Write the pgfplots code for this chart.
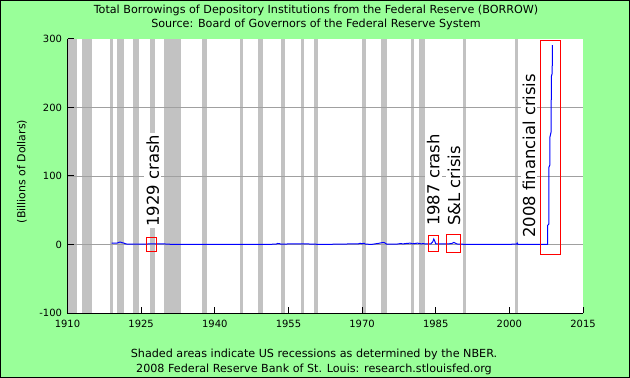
\documentclass[border=0pt]{standalone}
\usepackage{pgfplots}
\pgfplotsset{compat=1.18}
\usepackage{fontspec}
\setmainfont{DejaVu Sans}
\definecolor{bggreen}{RGB}{153,255,153}
\definecolor{recgray}{RGB}{194,194,194}
\definecolor{gridgray}{RGB}{160,160,160}
\newcommand\rec[2]{\addplot[fill=recgray, draw=none, forget plot] coordinates {(#1,-100) (#1,300) (#2,300) (#2,-100)} -- cycle;}
\begin{document}
\begin{tikzpicture}
\path[use as bounding box] (0,0) rectangle (630bp,378bp);
\fill[bggreen] (0,0) rectangle (630bp,378bp);
\draw[black, line width=1bp] (0.5bp,0.5bp) rectangle (629.5bp,377.5bp);
\node[font=\fontsize{11.2}{13}\selectfont] at (316bp,367.5bp) {Total Borrowings of Depository Institutions from the Federal Reserve (BORROW)};
\node[font=\fontsize{11.2}{13}\selectfont] at (316bp,353.5bp) {Source: Board of Governors of the Federal Reserve System};
\node[font=\fontsize{11.2}{13}\selectfont] at (314bp,24bp) {Shaded areas indicate US recessions as determined by the NBER.};
\node[font=\fontsize{11.2}{13}\selectfont] at (314bp,9bp) {2008 Federal Reserve Bank of St. Louis: research.stlouisfed.org};
\node[font=\fontsize{11}{13}\selectfont, rotate=90] at (22bp,206.5bp) {(Billions of Dollars)};
\begin{axis}[
  at={(67.5bp,65bp)}, anchor=south west,
  scale only axis, width=515.5bp, height=274bp,
  xmin=1910, xmax=2015, ymin=-100, ymax=300,
  axis line style={draw=none},
  axis background/.style={fill=white},
  axis on top,
  xtick={1910,1925,1940,1955,1970,1985,2000,2015},
  ytick={-100,0,100,200,300},
  xticklabel style={/pgf/number format/1000 sep={}, /pgf/number format/fixed, yshift=-3.5bp},
  yticklabel style={xshift=-2bp},
  tick pos=left,
  tick align=inside, major tick length=6bp,
  tick style={black, line width=1bp},
  ticklabel style={font=\fontsize{10}{11}\selectfont},
  /pgf/number format/assume math mode=true,
  clip=false,
]
\rec{1910.0}{1912.0}
\rec{1913.0}{1914.92}
\rec{1918.58}{1919.17}
\rec{1920.0}{1921.5}
\rec{1923.33}{1924.5}
\rec{1926.75}{1927.83}
\rec{1929.58}{1933.17}
\rec{1937.33}{1938.42}
\rec{1945.08}{1945.75}
\rec{1948.83}{1949.75}
\rec{1953.5}{1954.33}
\rec{1957.58}{1958.25}
\rec{1960.25}{1961.08}
\rec{1969.92}{1970.83}
\rec{1973.83}{1975.17}
\rec{1980.0}{1980.5}
\rec{1981.5}{1982.83}
\rec{1990.5}{1991.17}
\rec{2001.17}{2001.83}
\draw[gridgray, line width=0.8bp] (axis cs:1910,0) -- (axis cs:2015,0);
\draw[gridgray, line width=0.8bp] (axis cs:1910,100) -- (axis cs:2015,100);
\draw[gridgray, line width=0.8bp] (axis cs:1910,200) -- (axis cs:2015,200);
\draw[black, line width=1bp] (rel axis cs:0,1) -- (rel axis cs:0,0) -- (rel axis cs:1,0);
\addplot[blue, line width=1bp] coordinates {
(1919.0,1.9) (1919.5,2.0) (1920.2,2.2) (1920.5,3.2) (1920.8,3.6) (1921.0,2.8) (1921.5,2.0) (1921.9,0.8)
(1922.5,0.5) (1925,0.6) (1928,0.9) (1929.5,0.9) (1931,0.3) (1933,0.1) (1940,0.0) (1950,0.1)
(1952.5,0.5) (1952.8,1.5) (1953.2,1.2) (1953.5,0.4) (1955,0.8) (1957,0.8) (1959,0.8) (1960,0.5)
(1962,0.1) (1965,0.5) (1969.3,1.0) (1969.6,1.8) (1970.0,1.0) (1970.4,1.8) (1970.7,0.5) (1972,0.2)
(1973.2,1.5) (1973.6,2.0) (1974.3,3.0) (1974.6,2.5) (1975.0,0.5) (1977,0.5) (1977.7,1.2) (1978.5,1.0)
(1979.0,1.5) (1979.8,2.0) (1980.3,1.0) (1980.8,1.5) (1981.3,2.0) (1982.0,1.0) (1982.5,1.2) (1983,0.8)
(1984.0,0.8) (1984.4,4) (1984.6,8) (1984.8,5) (1985.0,1) (1986,0.8) (1987.5,0.8) (1988.3,1.5)
(1988.7,3.0) (1989.1,1.5) (1989.5,0.5) (1991,0.3) (1995,0.2) (2000,0.3) (2001.5,0.5) (2001.6,2.0)
(2001.75,0.2) (2007.6,0.3) (2007.78,0.3) (2007.81,28) (2008.05,30) (2008.07,113) (2008.25,116) (2008.27,157)
(2008.52,165) (2008.54,245) (2008.73,250) (2008.75,291)
};
\draw[red, line width=1bp] (axis cs:1926.1,-10) rectangle (axis cs:1928.2,10.5);
\draw[red, line width=1bp] (axis cs:1983.5,-10) rectangle (axis cs:1985.6,13.4);
\draw[red, line width=1bp] (axis cs:1987.15,-12) rectangle (axis cs:1990.1,15.3);
\draw[red, line width=1bp] (axis cs:2006.3,-14.3) rectangle (axis cs:2010.45,298);
\node[rotate=90, fill=white, inner sep=2bp, font=\fontsize{16.5}{18}\selectfont] at (axis cs:1927.35,93.4) {1929 crash};
\node[rotate=90, fill=white, inner sep=2bp, font=\fontsize{16.5}{18}\selectfont] at (axis cs:1984.5,94.2) {1987 crash};
\node[rotate=90, fill=white, inner sep=2bp, font=\fontsize{16.5}{18}\selectfont] at (axis cs:1988.7,85.6) {S\&L crisis};
\node[rotate=90, fill=white, inner sep=2bp, font=\fontsize{16.5}{18}\selectfont] at (axis cs:2004.0,129.4) {2008 financial crisis};
\end{axis}
\end{tikzpicture}
\end{document}
